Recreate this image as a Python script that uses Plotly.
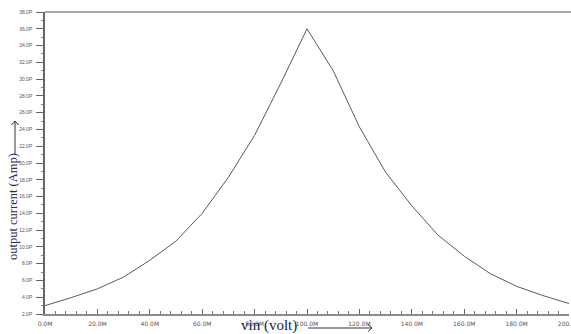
import plotly.graph_objects as go

# Sweep of input voltage (in M units) and simulated output current (in pA)
vin = [0, 10, 20, 30, 40, 50, 60, 70, 80, 90, 100,
       110, 120, 130, 140, 150, 160, 170, 180, 190, 200]
current = [3.0, 3.95, 5.0, 6.4, 8.4, 10.7, 14.0, 18.3, 23.3, 29.5, 36.0,
           31.0, 24.3, 18.9, 14.9, 11.4, 8.9, 6.8, 5.3, 4.2, 3.25]

x_ticks = [0, 20, 40, 60, 80, 100, 120, 140, 160, 180, 200]
x_labels = ["0.0M", "20.0M", "40.0M", "60.0M", "80.0M", "100.0M",
            "120.0M", "140.0M", "160.0M", "180.0M", "200.0M"]
y_ticks = list(range(2, 39, 2))
y_labels = [f"{v}.0P" for v in y_ticks]

W, H = 571, 334
L, R, T, B = 45, 2, 12, 20
pw, ph = W - L - R, H - T - B


def px(xp):
    return (xp - L) / pw


def py(yp):
    return (H - B - yp) / ph


fig = go.Figure()
fig.add_trace(go.Scatter(
    x=vin, y=current, mode="lines",
    line=dict(color="#5a5a5a", width=1),
    hoverinfo="skip", showlegend=False,
))

fig.update_layout(
    width=W, height=H, autosize=False,
    margin=dict(l=L, r=R, t=T, b=B, autoexpand=False),
    paper_bgcolor="white", plot_bgcolor="white",
    xaxis=dict(
        range=[0, 200], tickvals=x_ticks, ticktext=x_labels,
        ticks="inside", ticklen=5, tickcolor="#666666", tickwidth=1,
        minor=dict(dtick=4, ticks="inside", ticklen=3, tickcolor="#777777"),
        showline=True, linecolor="#8a8a8a", linewidth=1.5,
        showgrid=False, zeroline=False, automargin=False,
        tickfont=dict(family="DejaVu Sans", size=6, color="#555555"),
        ticklabelstandoff=3, ticklabeloverflow="allow",
    ),
    yaxis=dict(
        range=[2, 38], tickvals=y_ticks, ticktext=y_labels,
        ticks="outside", ticklen=7, tickcolor="#666666", tickwidth=1,
        minor=dict(dtick=1, ticks="outside", ticklen=2, tickcolor="#888888"),
        showline=True, linecolor="#666666", linewidth=1.5,
        showgrid=False, zeroline=False, automargin=False,
        tickfont=dict(family="Liberation Sans", size=5, color="#555555"),
        ticklabelstandoff=3, ticklabeloverflow="allow",
    ),
)

# Top frame line running to the right edge
fig.add_shape(type="line", xref="paper", yref="paper",
              x0=0, x1=px(W + 2), y0=1, y1=1,
              line=dict(color="#8a8a8a", width=1.5))

# Axis titles
fig.add_annotation(text="vin (volt)", xref="paper", yref="paper",
                   x=px(269), y=py(325), showarrow=False,
                   xanchor="center", yanchor="middle",
                   font=dict(family="Liberation Serif", size=15, color="#1c1c30"))
fig.add_annotation(text="output current (Amp)", xref="paper", yref="paper",
                   x=px(13), y=py(207), showarrow=False, textangle=-90,
                   xanchor="center", yanchor="middle",
                   font=dict(family="Liberation Serif", size=12.5, color="#1f2d5c"))

# Direction arrows next to the titles
arrow = dict(color="#333333", width=1)
# horizontal arrow after "vin (volt)"
fig.add_shape(type="line", xref="paper", yref="paper",
              x0=px(308), x1=px(372), y0=py(328), y1=py(328), line=arrow)
fig.add_shape(type="line", xref="paper", yref="paper",
              x0=px(368), x1=px(372), y0=py(324.5), y1=py(328), line=arrow)
fig.add_shape(type="line", xref="paper", yref="paper",
              x0=px(368), x1=px(372), y0=py(331.5), y1=py(328), line=arrow)
# vertical arrow above the y title
fig.add_shape(type="line", xref="paper", yref="paper",
              x0=px(15), x1=px(15), y0=py(155), y1=py(121), line=arrow)
fig.add_shape(type="line", xref="paper", yref="paper",
              x0=px(11.5), x1=px(15), y0=py(125), y1=py(121), line=arrow)
fig.add_shape(type="line", xref="paper", yref="paper",
              x0=px(18.5), x1=px(15), y0=py(125), y1=py(121), line=arrow)

fig.write_html("out.html")
